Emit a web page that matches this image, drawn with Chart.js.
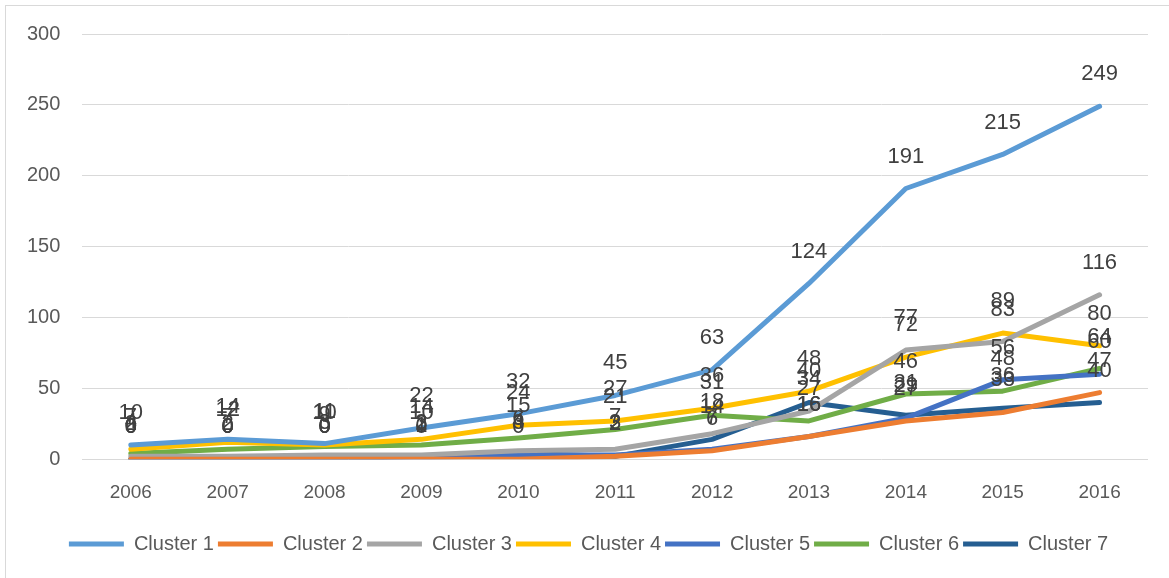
<!DOCTYPE html>
<html>
<head>
<meta charset="utf-8">
<script src="https://cdn.jsdelivr.net/npm/chart.js@4"></script>
<style>
  html, body { margin: 0; padding: 0; background: #fff; }
  #wrap { position: relative; width: 1169px; height: 578px; }
  #frame { position: absolute; left: 5px; top: 5px; right: -2px; bottom: -2px; border: 1px solid #d9d9d9; }
</style>
</head>
<body>
<div id="wrap">
  <div id="frame"></div>
  <canvas id="grafico" width="1169" height="578"></canvas>
</div>
<script>
var years = ["2006", "2007", "2008", "2009", "2010", "2011", "2012", "2013", "2014", "2015", "2016"];
var cluster1 = [10, 14, 11, 22, 32, 45, 63, 124, 191, 215, 249];
var cluster2 = [0, 0, 0, 0, 0, 2, 6, 16, 27, 33, 47];
var cluster3 = [2, 2, 3, 3, 6, 7, 18, 34, 77, 83, 116];
var cluster4 = [7, 12, 10, 14, 24, 27, 36, 48, 72, 89, 80];
var cluster5 = [0, 0, 0, 1, 3, 3, 7, 16, 29, 56, 60];
var cluster6 = [4, 7, 9, 10, 15, 21, 31, 27, 46, 48, 64];
var cluster7 = [0, 0, 0, 2, 4, 2, 14, 40, 31, 36, 40];
var yTicks = [0, 50, 100, 150, 200, 250, 300];

var fuente = "'Liberation Sans', Arial, sans-serif";

function serie(nombre, datos, color) {
    return {
        label: nombre,
        data: datos,
        borderColor: color,
        backgroundColor: color,
        borderWidth: 5,
        borderCapStyle: "round",
        borderJoinStyle: "round",
        pointRadius: 0,
        pointHoverRadius: 0,
        fill: false,
        tension: 0
    };
}

// etiquetas de datos encima de cada punto
var etiquetas = {
    id: "etiquetas",
    afterLayout: function (chart) {
        // la leyenda del original queda un poco a la derecha
        chart.legend.left += 12;
        chart.legend.right += 12;
    },
    afterDatasetsDraw: function (chart) {
        var ctx = chart.ctx;
        ctx.save();
        ctx.font = "22px " + fuente;
        ctx.fillStyle = "#404040";
        ctx.textAlign = "center";
        ctx.textBaseline = "middle";
        chart.data.datasets.forEach(function (ds, i) {
            var meta = chart.getDatasetMeta(i);
            meta.data.forEach(function (pt, j) {
                ctx.fillText(String(ds.data[j]), pt.x, pt.y - 32);
            });
        });
        ctx.restore();
    }
};

var ctx = document.getElementById("grafico").getContext("2d");
new Chart(ctx, {
    type: "line",
    data: {
        labels: years,
        datasets: [
            serie("Cluster 1", cluster1, "#5B9BD5"),
            serie("Cluster 2", cluster2, "#ED7D31"),
            serie("Cluster 3", cluster3, "#A5A5A5"),
            serie("Cluster 4", cluster4, "#FFC000"),
            serie("Cluster 5", cluster5, "#4472C4"),
            serie("Cluster 6", cluster6, "#70AD47"),
            serie("Cluster 7", cluster7, "#255E91")
        ]
    },
    options: {
        responsive: false,
        animation: false,
        layout: { padding: { left: 5, right: 21, top: 28, bottom: 14 } },
        plugins: {
            tooltip: { enabled: false },
            legend: {
                position: "bottom",
                labels: {
                    usePointStyle: true,
                    pointStyle: "line",
                    pointStyleWidth: 55,
                    boxHeight: 5,
                    padding: 4,
                    color: "#595959",
                    font: { family: fuente, size: 20 }
                }
            }
        },
        scales: {
            x: {
                offset: true,
                grid: { display: false },
                border: { display: false },
                afterFit: function (s) { s.height += 12; },
                ticks: {
                    color: "#595959",
                    padding: 14,
                    font: { family: fuente, size: 19 }
                }
            },
            y: {
                min: 0,
                max: 300,
                afterBuildTicks: function (axis) {
                    axis.ticks = yTicks.map(function (v) { return { value: v }; });
                },
                grid: { color: "#d9d9d9", lineWidth: 1, drawTicks: false },
                border: { display: false },
                ticks: {
                    color: "#595959",
                    padding: 22,
                    font: { family: fuente, size: 20 }
                }
            }
        }
    },
    plugins: [etiquetas]
});
</script>
</body>
</html>
